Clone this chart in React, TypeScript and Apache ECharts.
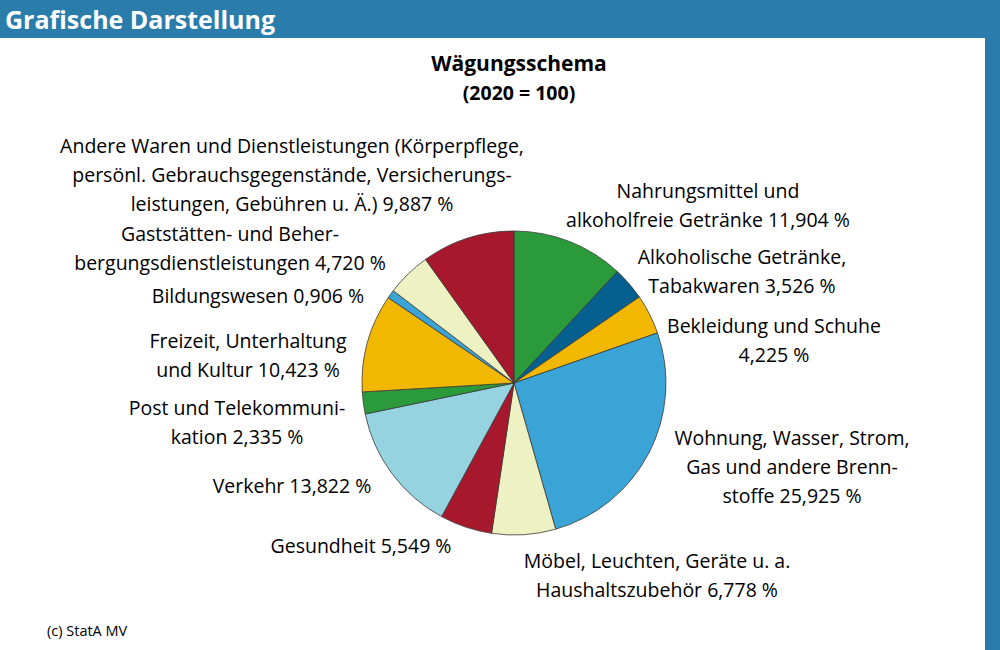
import React, { useEffect, useRef } from "react";
import * as echarts from "echarts";

const categories = [
  "Nahrungsmittel und\nalkoholfreie Getränke",
  "Alkoholische Getränke,\nTabakwaren",
  "Bekleidung und Schuhe\n",
  "Wohnung, Wasser, Strom,\nGas und andere Brenn-\nstoffe",
  "Möbel, Leuchten, Geräte u. a.\nHaushaltszubehör",
  "Gesundheit",
  "Verkehr",
  "Post und Telekommuni-\nkation",
  "Freizeit, Unterhaltung\nund Kultur",
  "Bildungswesen",
  "Gaststätten- und Beher-\nbergungsdienstleistungen",
  "Andere Waren und Dienstleistungen (Körperpflege,\npersönl. Gebrauchsgegenstände, Versicherungs-\nleistungen, Gebühren u. Ä.)",
];
const values = [11.904, 3.526, 4.225, 25.925, 6.778, 5.549, 13.822, 2.335, 10.423, 0.906, 4.72, 9.887];
const colors = [
  "#2a9a3b", "#05608f", "#f2b800", "#3aa4d7", "#eef1c2", "#a8182d",
  "#95d3e1", "#2a9a3b", "#f2b800", "#3aa4d7", "#eef1c2", "#a8182d",
];
// label block centres (layout)
const labelPos: [number, number][] = [
  [708, 204.5], [742, 270.5], [774, 339.5], [792, 466], [657, 574.5], [361, 545],
  [292, 485], [237, 421.5], [248, 354.5], [258, 295], [230, 248], [292, 174],
];

const FONT = "'Open Sans', sans-serif";

export default function App() {
  const ref = useRef<HTMLDivElement>(null);
  useEffect(() => {
    const chart = echarts.init(ref.current!, null, { renderer: "svg" });
    chart.setOption({
      animation: false,
      backgroundColor: "#ffffff",
      graphic: [
        { type: "rect", shape: { x: 0, y: 0, width: 1000, height: 38 }, style: { fill: "#2a7cab" } },
        { type: "rect", shape: { x: 985, y: 0, width: 15, height: 650 }, style: { fill: "#2a7cab" } },
        {
          type: "text", x: 5, y: 19,
          style: { text: "Grafische Darstellung", fill: "#ffffff", font: `bold 25px ${FONT}`, verticalAlign: "middle" },
        },
        {
          type: "text", x: 47, y: 630,
          style: { text: "(c) StatA MV", fill: "#000", font: `14.5px ${FONT}`, verticalAlign: "middle" },
        },
      ],
      title: {
        text: "Wägungsschema",
        subtext: "(2020 = 100)",
        left: 514,
        textAlign: "center",
        top: 47,
        itemGap: 9,
        textStyle: { fontFamily: FONT, fontWeight: "bold", fontSize: 21, color: "#000" },
        subtextStyle: { fontFamily: FONT, fontWeight: "bold", fontSize: 19.5, color: "#000" },
      },
      series: [
        {
          type: "pie",
          center: [514, 383],
          radius: 152,
          startAngle: 90,
          clockwise: true,
          avoidLabelOverlap: false,
          data: categories.map((c, i) => ({ name: c, value: values[i], itemStyle: { color: colors[i] } })),
          itemStyle: { borderColor: "#3a3a3a", borderWidth: 0.8 },
          label: {
            show: true,
            position: "outside",
            fontFamily: FONT,
            fontSize: 19.5,
            lineHeight: 29,
            color: "#000",
            align: "center",
            formatter: (p: any) => {
              const v = p.value.toFixed(3).replace(".", ",") + " %";
              return p.name.endsWith("\n") ? p.name + v : p.name + " " + v;
            },
          },
          labelLine: { show: false },
          labelLayout: (p: any) => ({
            x: labelPos[p.dataIndex][0],
            y: labelPos[p.dataIndex][1],
            align: "center",
            verticalAlign: "middle",
            hideOverlap: false,
            moveOverlap: null,
          }),
          emphasis: { disabled: true },
        },
      ],
    });
    return () => chart.dispose();
  }, []);
  return <div ref={ref} style={{ position: "absolute", left: 0, top: 0, width: 1000, height: 650 }} />;
}
